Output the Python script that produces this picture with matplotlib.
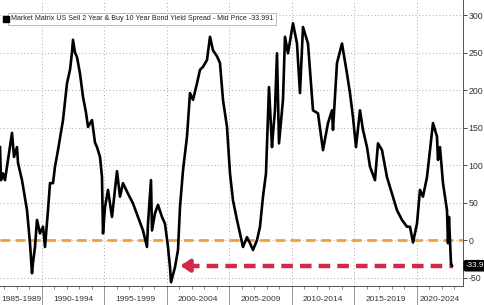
import numpy as np
import matplotlib.pyplot as plt

plt.rcParams['font.family'] = ['Liberation Sans', 'DejaVu Sans']

# spread in bp (decimal year, value)
years = [1986.64, 1986.72, 1986.88, 1987.04, 1987.28, 1987.60, 1987.76, 1988.00, 1988.08, 1988.40,
         1988.80, 1989.04, 1989.20, 1989.28, 1989.44, 1989.60, 1989.84, 1990.08, 1990.24, 1990.48,
         1990.64, 1990.88, 1991.04, 1991.28, 1991.68, 1991.84, 1992.00, 1992.24, 1992.40, 1992.48,
         1992.64, 1992.80, 1993.04, 1993.28, 1993.52, 1993.68, 1994.00, 1994.24, 1994.40, 1994.64,
         1994.80, 1994.88, 1995.04, 1995.28, 1995.60, 1996.00, 1996.24, 1996.48, 1996.88, 1997.28,
         1997.68, 1998.08, 1998.40, 1998.48, 1998.72, 1998.80, 1999.04, 1999.28, 1999.60, 1999.84,
         2000.08, 2000.24, 2000.32, 2000.64, 2000.88, 2001.04, 2001.28, 2001.60, 2001.84, 2002.08,
         2002.40, 2002.64, 2002.88, 2003.20, 2003.44, 2003.68, 2004.00, 2004.24, 2004.48, 2004.80,
         2005.04, 2005.28, 2005.60, 2005.84, 2006.08, 2006.40, 2006.64, 2006.88, 2007.20, 2007.44,
         2007.68, 2007.92, 2008.16, 2008.40, 2008.48, 2008.64, 2008.80, 2008.96, 2009.28, 2009.44,
         2009.68, 2010.08, 2010.40, 2010.64, 2010.88, 2011.28, 2011.68, 2012.08, 2012.48, 2012.88,
         2013.20, 2013.28, 2013.60, 2014.00, 2014.40, 2014.64, 2014.88, 2015.12, 2015.44, 2015.68,
         2016.00, 2016.24, 2016.64, 2016.88, 2017.20, 2017.60, 2018.00, 2018.40, 2018.80, 2019.20,
         2019.44, 2019.68, 2020.00, 2020.24, 2020.48, 2020.80, 2021.04, 2021.28, 2021.60, 2021.68,
         2021.84, 2022.08, 2022.40, 2022.48, 2022.56, 2022.72, 2022.80]
spread = [124, 80, 89, 80, 107, 143, 111, 124, 103, 80,
          40, -4, -44, -30, -9, 27, 9, 18, -9, 40,
          76, 76, 98, 120, 160, 185, 209, 227, 250, 267,
          250, 244, 222, 191, 170, 151, 160, 130, 124, 111,
          84, 9, 44, 67, 31, 92, 58, 76, 62, 49,
          31, 13, -9, 22, 80, 13, 36, 47, 31, 22,
          -9, -36, -56, -36, -13, 44, 93, 138, 196, 187,
          209, 227, 231, 240, 271, 253, 245, 236, 187, 151,
          89, 53, 27, 9, -9, 4, -4, -13, 0, 18,
          58, 89, 204, 124, 142, 173, 249, 129, 187, 271,
          249, 289, 262, 196, 284, 262, 173, 169, 120, 156,
          173, 147, 236, 262, 222, 196, 164, 124, 173, 147,
          124, 98, 80, 129, 120, 84, 62, 40, 27, 18,
          18, -3, 22, 67, 58, 84, 120, 156, 138, 107,
          124, 76, 40, -4, 31, -31, -34]
last_price = -33.991

yticks = [-50, 0, 50, 100, 150, 200, 250, 300]
period_starts = [1985, 1990, 1995, 2000, 2005, 2010, 2015, 2020]
period_labels = ["1985-1989", "1990-1994", "1995-1999", "2000-2004",
                 "2005-2009", "2010-2014", "2015-2019", "2020-2024"]

x0, x1 = 1986.64, 2023.68
arrow_tip, arrow_tail = 2000.88, 2022.88

fig = plt.figure(figsize=(4.85, 3.05), dpi=100)
ax = fig.add_axes([0.0, 0.0623, 0.9546, 0.9377])
ax.set_xlim(x0, x1)
ax.set_ylim(-61, 320)

ax.plot(years, spread, color="black", lw=1.9, zorder=4)

# zero line and arrow to latest level
ax.axhline(0, color="#f0a035", lw=2.0, ls=(0, (3.5, 2)), zorder=3)
ax.plot([arrow_tip + 0.8, arrow_tail], [last_price, last_price], color="#d42848",
        lw=3.2, ls=(0, (2.6, 1.6)), zorder=3, solid_capstyle="butt")
ax.annotate("", xy=(arrow_tip, last_price), xytext=(arrow_tip + 1.0, last_price),
            arrowprops=dict(arrowstyle="-|>,head_length=0.5,head_width=0.35",
                            color="#d42848", lw=3.2), zorder=3)

# grid
for y in yticks:
    ax.axhline(y, color="#aaaaaa", lw=0.7, ls=(0, (1, 2.5)), zorder=1)
for p in period_starts[1:]:
    ax.axvline(p, color="#aaaaaa", lw=0.7, ls=(0, (1, 2.5)), zorder=1)

# right axis
ax.yaxis.tick_right()
ax.set_yticks(yticks)
ax.set_yticklabels([str(v) for v in yticks], fontsize=6.3, color="#333333")
ax.tick_params(axis="y", length=3, width=0.6, pad=1, colors="#333333")
for s in ["top", "left"]:
    ax.spines[s].set_visible(False)
ax.spines["right"].set_color("#555555")
ax.spines["bottom"].set_color("#555555")
ax.spines["right"].set_linewidth(0.7)
ax.spines["bottom"].set_linewidth(0.7)

# bottom axis: yearly ticks, period labels and separators
ax.set_xticks(np.arange(1987, 2024))
ax.set_xticklabels([])
ax.tick_params(axis="x", length=2.5, width=0.5, colors="#555555")
for p, lab in zip(period_starts, period_labels):
    lo, hi = max(p, x0), min(p + 5, x1)
    ax.text((lo + hi) / 2, -0.035, lab, transform=ax.get_xaxis_transform(),
            ha="center", va="top", fontsize=6, color="#333333")
    if p > x0:
        ax.plot([p, p], [0, -0.07], transform=ax.get_xaxis_transform(),
                color="#888888", lw=0.6, clip_on=False)

# legend box
ax.text(0.024, 0.934, "Market Matrix US Sell 2 Year & Buy 10 Year Bond Yield Spread - Mid Price %.3f" % last_price,
        transform=ax.transAxes, fontsize=5.15, color="#222222", va="center", ha="left",
        bbox=dict(boxstyle="square,pad=0.4", fc="white", ec="#bbbbbb", lw=0.7), zorder=6)
ax.plot([0.012], [0.934], marker="s", ms=4.2, color="black", transform=ax.transAxes,
        clip_on=False, zorder=7)

# last value tag (the picture shows it cut at the edge: "-33.9")
ax.text(1.006, last_price, ("%.3f" % last_price)[:5], transform=ax.get_yaxis_transform(),
        fontsize=5.8, color="white", va="center", ha="left",
        bbox=dict(boxstyle="round,pad=0.2", fc="black", ec="black"), zorder=6, clip_on=False)

fig.savefig("out.png", dpi=100)
